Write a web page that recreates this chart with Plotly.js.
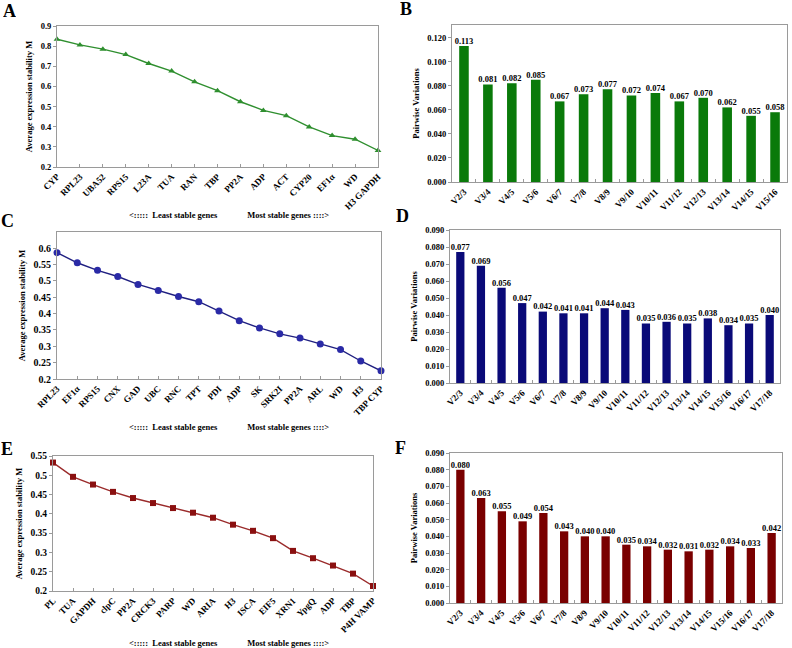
<!DOCTYPE html>
<html><head><meta charset="utf-8">
<script src="https://cdn.plot.ly/plotly-3.0.1.min.js"></script>
<style>html,body{margin:0;padding:0;background:#fff}#chart{width:792px;height:648px}
.main-svg text{opacity:0.995}</style>
</head><body><div id="chart"></div>
<script>
// Panel A (geNorm M, set 1)
const genesA = ["CYP","RPL23","UBA52","RPS15","L23A","TUA","RAN","TBP","PP2A","ADP","ACT","CYP20","EF1α","WD","H3 GAPDH"];
const mA = [0.834,0.806,0.785,0.758,0.714,0.676,0.623,0.579,0.524,0.481,0.455,0.399,0.356,0.338,0.282];
// Panel B (pairwise variation, set 1)
const pairsB = ["V2/3","V3/4","V4/5","V5/6","V6/7","V7/8","V8/9","V9/10","V10/11","V11/12","V12/13","V13/14","V14/15","V15/16"];
const vB = [0.113,0.081,0.082,0.085,0.067,0.073,0.077,0.072,0.074,0.067,0.070,0.062,0.055,0.058];
// Panel C
const genesC = ["RPL23","EF1α","RPS15","CNX","GAD","UBC","RNC","TPT","PDI","ADP","SK","SRK2I","PP2A","ARL","WD","H3","TBP CYP"];
const mC = [0.586,0.555,0.532,0.513,0.489,0.470,0.452,0.436,0.408,0.378,0.356,0.338,0.325,0.307,0.290,0.255,0.225];
// Panel D
const pairsD = ["V2/3","V3/4","V4/5","V5/6","V6/7","V7/8","V8/9","V9/10","V10/11","V11/12","V12/13","V13/14","V14/15","V15/16","V16/17","V17/18"];
const vD = [0.077,0.069,0.056,0.047,0.042,0.041,0.041,0.044,0.043,0.035,0.036,0.035,0.038,0.034,0.035,0.040];
// Panel E
const genesE = ["PL","TUA","GAPDH","clpC","PP2A","CRCK3","PARP","WD","ARIA","H3","ISCA","EIF5","XRN1","YpgQ","ADP","TBP","P4H VAMP"];
const mE = [0.533,0.496,0.476,0.457,0.441,0.428,0.415,0.403,0.390,0.372,0.356,0.337,0.304,0.285,0.266,0.245,0.213];
// Panel F
const pairsF = ["V2/3","V3/4","V4/5","V5/6","V6/7","V7/8","V8/9","V9/10","V10/11","V11/12","V12/13","V13/14","V14/15","V15/16","V16/17","V17/18"];
const vF = [0.080,0.063,0.055,0.049,0.054,0.043,0.040,0.040,0.035,0.034,0.032,0.031,0.032,0.034,0.033,0.042];

const panelLetters = ["A","B","C","D","E","F"];
const subText = "&lt;:::::  Least stable genes&nbsp;&nbsp;&nbsp;&nbsp;&nbsp;&nbsp;&nbsp;&nbsp;&nbsp;&nbsp;&nbsp;&nbsp;&nbsp;&nbsp;Most stable genes ::::&gt;";

const FF = "Liberation Serif, Times New Roman, serif";
const tickFont = {family: FF, size: 8.5, color: "#000", weight: "bold"};
const catFont = {family: FF, size: 9, color: "#000", weight: "bold"};
const titleFont = {family: FF, size: 8.5, color: "#000", weight: "bold"};
const barTextFont = {family: FF, size: 8.5, color: "#000000", weight: "bold"};

function lineTrace(x, y, color, lineColor, symbol, size, ax) {
  return {type: "scatter", mode: "lines+markers", x: x, y: y,
    line: {color: lineColor, width: 1.4},
    marker: {color: color, symbol: symbol, size: size},
    cliponaxis: false, xaxis: "x" + ax, yaxis: "y" + ax, showlegend: false, hoverinfo: "skip"};
}
function barTrace(x, y, color, ax) {
  return {type: "bar", x: x, y: y, width: 0.4, marker: {color: color, line: {width: 0}},
    xaxis: "x" + ax, yaxis: "y" + ax, showlegend: false, hoverinfo: "skip"};
}
function barLabels(x, y, ax) {
  return {type: "scatter", mode: "text", x: x, y: y, text: y.map(v => v.toFixed(3)),
    textposition: "top center", textfont: barTextFont, cliponaxis: false,
    xaxis: "x" + ax, yaxis: "y" + ax, showlegend: false, hoverinfo: "skip"};
}

const data = [
  lineTrace(genesA, mA, "#2f8f2f", "#2f8f2f", "triangle-up", 6, ""),
  barTrace(pairsB, vB, "#0a7a0a", "2"), barLabels(pairsB, vB, "2"),
  lineTrace(genesC, mC, "#2a2aa6", "#1f1f80", "circle", 7, "3"),
  barTrace(pairsD, vD, "#0a0a78", "4"), barLabels(pairsD, vD, "4"),
  lineTrace(genesE, mE, "#8a1010", "#9a2a2a", "square", 6, "5"),
  barTrace(pairsF, vF, "#7a0000", "6"), barLabels(pairsF, vF, "6")
];
data[0].xaxis = "x"; data[0].yaxis = "y";

const W = 792, H = 648;
function dx(a, b) { return [a / W, b / W]; }
function dy(top, bot) { return [1 - bot / H, 1 - top / H]; }
const axLine = {showline: true, linecolor: "#9a9a9a", linewidth: 1, mirror: true, showgrid: false, zeroline: false};

function lineX(cats, dom, anchor) {
  return Object.assign({}, axLine, {domain: dom, anchor: anchor, type: "category",
    range: [0, cats.length - 1], tickangle: -45, tickfont: catFont, ticks: "inside", ticklen: 3, tickcolor: "#9a9a9a", automargin: false});
}
function barX(cats, dom, anchor) {
  return Object.assign({}, axLine, {domain: dom, anchor: anchor, type: "category",
    range: [-0.5, cats.length - 0.5], tickangle: -45, tickfont: catFont, ticks: "inside", ticklen: 3, tickson: "boundaries", tickcolor: "#9a9a9a", automargin: false});
}
function yAx(dom, anchor, range, dtick, fmt, title) {
  return Object.assign({}, axLine, {domain: dom, anchor: anchor, range: range, dtick: dtick, tick0: 0,
    tickformat: fmt, tickfont: tickFont, ticks: "outside", ticklen: 3, tickcolor: "#9a9a9a",
    title: {text: title, font: titleFont, standoff: 6}, automargin: false});
}

const layout = {
  width: W, height: H, margin: {l: 0, r: 0, t: 0, b: 0},
  paper_bgcolor: "#fff", plot_bgcolor: "#fff", showlegend: false, bargap: 0.6,
  xaxis: lineX(genesA, dx(57, 378), "y"),
  yaxis: yAx(dy(26, 167), "x", [0.2, 0.9], 0.1, ".1f", "Average expression stability M"),
  xaxis2: barX(pairsB, dx(452, 787), "y2"),
  yaxis2: yAx(dy(25, 182), "x2", [0, 0.1305], 0.02, ".3f", "Pairwise Variations"),
  xaxis3: lineX(genesC, dx(57, 381), "y3"),
  yaxis3: Object.assign(yAx(dy(232, 379), "x3", [0.2, 0.649], 0.05, "", "Average expression stability M"), {tickvals: [0.2,0.25,0.3,0.35,0.4,0.45,0.5,0.55,0.6], ticktext: ["0.2","0.25","0.3","0.35","0.4","0.45","0.5","0.55","0.6"], tickfont: Object.assign({}, tickFont, {size: 10})}),
  xaxis4: barX(pairsD, dx(450, 780), "y4"),
  yaxis4: yAx(dy(230, 383), "x4", [0, 0.09], 0.01, ".3f", "Pairwise Variations"),
  xaxis5: lineX(genesE, dx(53, 373), "y5"),
  yaxis5: Object.assign(yAx(dy(456, 591), "x5", [0.2, 0.55], 0.05, "", "Average expression stability M"), {tickvals: [0.2,0.25,0.3,0.35,0.4,0.45,0.5,0.55], ticktext: ["0.2","0.25","0.3","0.35","0.4","0.45","0.5","0.55"], tickfont: Object.assign({}, tickFont, {size: 9.5})}),
  xaxis6: barX(pairsF, dx(450, 782), "y6"),
  yaxis6: yAx(dy(453, 603), "x6", [0, 0.09], 0.01, ".3f", "Pairwise Variations"),
  annotations: []
};

const letterPos = [[9, 11], [406, 9], [7, 221], [402, 216], [7, 449], [401, 448]];
panelLetters.forEach((L, i) => {
  layout.annotations.push({text: L, xref: "paper", yref: "paper", x: letterPos[i][0] / W, y: 1 - letterPos[i][1] / H,
    xanchor: "center", yanchor: "middle", showarrow: false,
    font: {family: FF, size: 18, color: "#000", weight: "bold"}});
});
[[229, 215], [229, 427], [229, 643]].forEach(p => {
  layout.annotations.push({text: subText, xref: "paper", yref: "paper", x: p[0] / W, y: 1 - p[1] / H,
    xanchor: "center", yanchor: "middle", showarrow: false,
    font: {family: FF, size: 8.5, color: "#000", weight: "bold"}});
});

Plotly.newPlot("chart", data, layout, {staticPlot: true});
</script></body></html>
